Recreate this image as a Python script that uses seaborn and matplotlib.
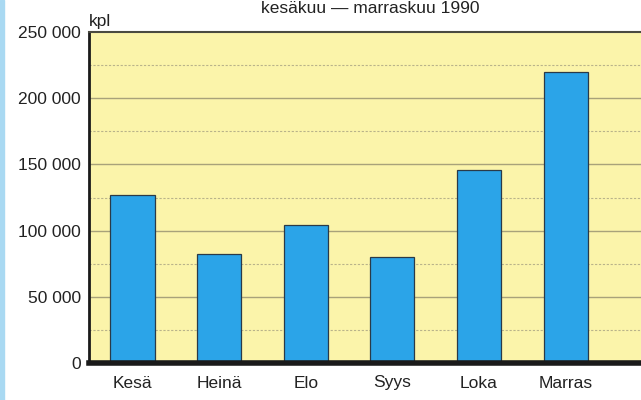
import numpy as np
import matplotlib.pyplot as plt
import matplotlib.patches as mpatches
import seaborn as sns
import pandas as pd

kuukaudet = ["Kesä", "Heinä", "Elo", "Syys", "Loka", "Marras"]
kpl = [127000, 82000, 104000, 80300, 146000, 220000]
y_ticks = [0, 50000, 100000, 150000, 200000, 250000]
y_labels = ["0", "50 000", "100 000", "150 000", "200 000", "250 000"]

df = pd.DataFrame({"kuukausi": kuukaudet, "kpl": kpl})

sns.set_style("white")
plt.rcParams['font.family'] = ['Liberation Sans', 'DejaVu Sans']

fig = plt.figure(figsize=(6.41, 4.0), dpi=100)
ax = fig.add_axes([0.139, 0.0925, 0.861, 0.8275])
ax.set_facecolor("#fbf4aa")

# gridlines: solid every 50 000, dashed in between
for v in range(25000, 250000, 25000):
    if v % 50000 == 0:
        ax.axhline(v, color="#a8a27a", lw=1.0, zorder=0)
    else:
        ax.axhline(v, color="#b9b38a", lw=0.8, ls=(0, (2, 1.5)), zorder=0)

sns.barplot(data=df, x="kuukausi", y="kpl", color="#2ba4e8", width=0.51,
            edgecolor="#2a3a48", linewidth=0.9, saturation=1, ax=ax, zorder=2)

ax.set_ylim(0, 250000)
ax.set_xlim(-0.5, 5.87)
ax.set_yticks(y_ticks)
ax.set_yticklabels(y_labels, fontsize=12.5, color="#222222")
ax.tick_params(axis="y", length=4, width=0.8, color="#666666", pad=2)
ax.tick_params(axis="x", length=0, labelsize=12.5, labelcolor="#222222", pad=9)
ax.set_xlabel("")
ax.set_ylabel("")

ax.spines["left"].set_linewidth(2.0)
ax.spines["left"].set_color("#1a1a1a")
ax.spines["top"].set_linewidth(1.5)
ax.spines["top"].set_color("#4a4a40")
ax.spines["right"].set_visible(False)
ax.spines["bottom"].set_linewidth(4.0)
ax.spines["bottom"].set_color("#1a1a1a")
ax.spines["bottom"].set_zorder(5)

ax.text(0.0, 1.01, "kpl", transform=ax.transAxes, fontsize=12.5,
        color="#222222", ha="left", va="bottom")
fig.text(370 / 641, 1 - 1 / 400, "kesäkuu — marraskuu 1990", fontsize=12.5,
         color="#222222", ha="center", va="top")

# light blue strip on the left edge
fig.patches.append(mpatches.Rectangle((0, 0), 4 / 641, 1, transform=fig.transFigure,
                                      color="#a9d9f2", zorder=0))

fig.savefig("out.png", dpi=100)
